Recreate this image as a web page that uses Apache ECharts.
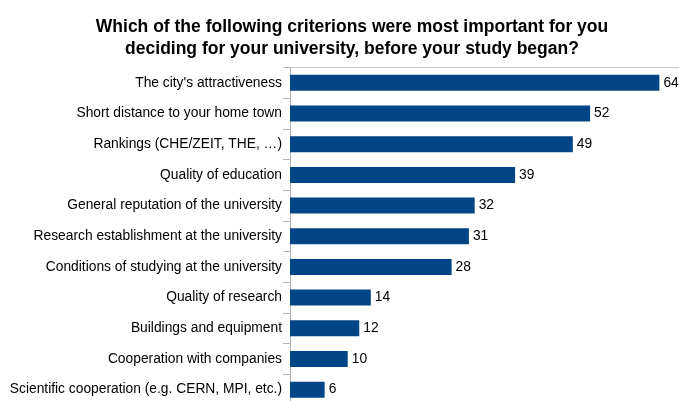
<!DOCTYPE html>
<html>
    <head>
        <meta charset="UTF-8">
        <title>University criteria</title>
        <script src="https://cdn.jsdelivr.net/npm/echarts@6/dist/echarts.min.js"></script>
        <style>
            body,html{margin:0;padding:0;background:#fff;}
            #chart{width:679px;height:401px;}
        </style>
    </head>
    <body>
        <div id="chart"></div>
        <script type="text/javascript">
          var categories = ["The city's attractiveness", 'Short distance to your home town', 'Rankings (CHE/ZEIT, THE, …)',
              'Quality of education', 'General reputation of the university', 'Research establishment at the university',
              'Conditions of studying at the university', 'Quality of research', 'Buildings and equipment',
              'Cooperation with companies', 'Scientific cooperation (e.g. CERN, MPI, etc.)'];
          var counts = [64, 52, 49, 39, 32, 31, 28, 14, 12, 10, 6];

          var chart = echarts.init(document.getElementById('chart'));
          var option = {
              animation: false,
              title: {
                  text: 'Which of the following criterions were most important for you\ndeciding for your university, before your study began?',
                  left: 347,
                  textAlign: 'center',
                  top: 11,
                  textStyle: {
                      fontFamily: 'Liberation Sans',
                      fontSize: 17.5,
                      fontWeight: 'bold',
                      color: '#000',
                      lineHeight: 22
                  }
              },
              grid: {
                  left: 290,
                  top: 67.5,
                  width: 389,
                  height: 337.5,
                  outerBoundsMode: 'none',
                  containLabel: false
              },
              xAxis: {
                  type: 'value',
                  position: 'top',
                  min: 0,
                  max: 67.4,
                  axisLine: {show: true, lineStyle: {color: '#c8c8c8'}},
                  axisTick: {show: false},
                  axisLabel: {show: false},
                  splitLine: {show: false}
              },
              yAxis: {
                  type: 'category',
                  inverse: true,
                  data: categories,
                  axisLine: {show: true, lineStyle: {color: '#b3b3b3'}},
                  axisTick: {show: true, length: 7, lineStyle: {color: '#b3b3b3'}},
                  axisLabel: {
                      margin: 8,
                      fontFamily: 'Liberation Sans',
                      fontSize: 13.8,
                      color: '#000'
                  }
              },
              series: [
                  {
                      type: 'bar',
                      data: counts,
                      barWidth: 16,
                      itemStyle: {color: '#004586'},
                      label: {
                          show: true,
                          position: 'right',
                          distance: 4,
                          fontFamily: 'Liberation Sans',
                          fontSize: 13.8,
                          color: '#000'
                      }
                  }
              ]
          };
          chart.setOption(option);
        </script>
    </body>
</html>
